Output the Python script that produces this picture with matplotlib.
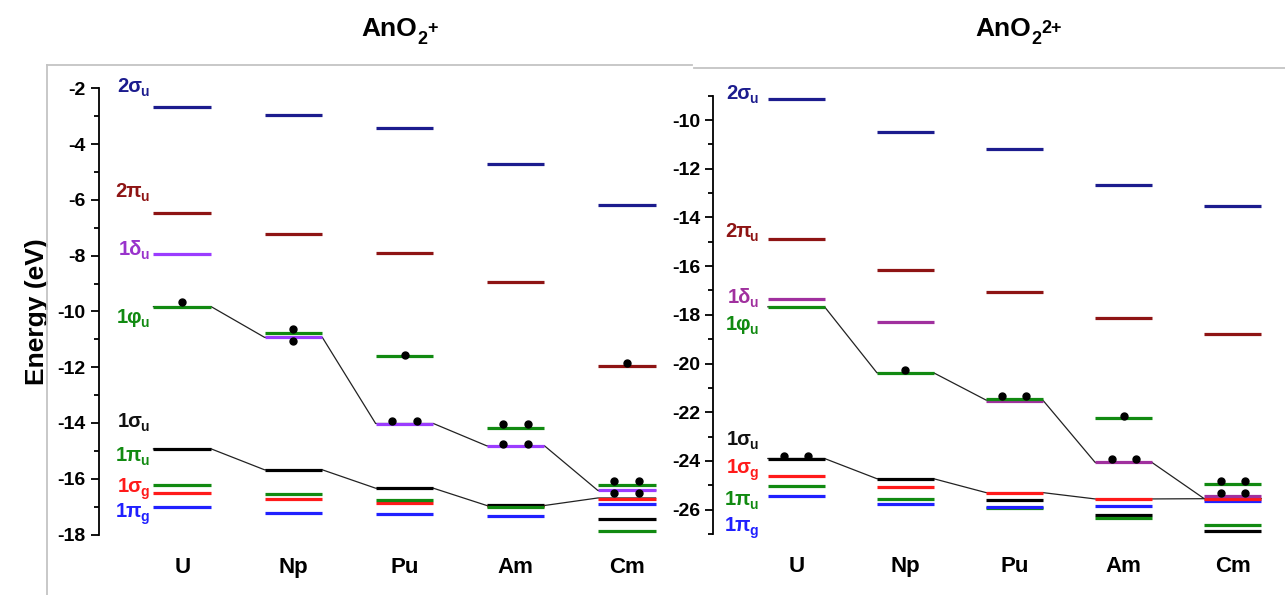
import matplotlib.pyplot as plt
from matplotlib.ticker import MultipleLocator
from matplotlib.lines import Line2D

plt.rcParams['font.family'] = ['Liberation Sans', 'DejaVu Sans']
plt.rcParams['font.weight'] = 'bold'
plt.rcParams['axes.unicode_minus'] = False

elements = ['U', 'Np', 'Pu', 'Am', 'Cm']

# AnO2+ levels (eV), one value per element
p_2su = [-2.66, -2.96, -3.43, -4.70, -6.19]
p_2pu = [-6.46, -7.21, -7.89, -8.93, -11.96]
p_1du = [-7.94, -10.93, -14.02, -14.82, -16.42]
p_1fu = [-9.83, -10.78, -11.60, -14.19, -16.24]
p_1su = [-14.93, -15.68, -16.34, -16.96, -17.43]
p_1pu = [-16.24, -16.55, -16.76, -17.03, -17.86]
p_1sg = [-16.50, -16.73, -16.86, -16.98, -16.72]
p_1pg = [-17.02, -17.22, -17.28, -17.34, -16.91]
p_upper = [-9.83, -10.93, -14.02, -14.82, -16.42]
p_lower = [-14.93, -15.68, -16.34, -16.96, -16.69]
# electrons: (element index, count, energy)
p_dots = [(0, 1, -9.65), (1, 1, -10.64), (1, 1, -11.05), (2, 1, -11.55),
          (2, 2, -13.92), (3, 2, -14.03), (3, 2, -14.75), (4, 1, -11.86),
          (4, 2, -16.07), (4, 2, -16.52)]

# AnO2 2+ levels (eV)
d_2su = [-9.14, -10.49, -11.19, -12.68, -13.52]
d_2pu = [-14.90, -16.17, -17.05, -18.12, -18.79]
d_1du = [-17.35, -18.28, -21.55, -24.06, -25.45]
d_1fu = [-17.67, -20.38, -21.46, -22.23, -24.95]
d_1su = [-23.90, -24.73, -25.60, -26.23, -26.86]
d_1sg = [-24.61, -25.08, -25.30, -25.56, -25.55]
d_1pu = [-25.03, -25.56, -25.95, -26.36, -26.64]
d_1pg = [-25.45, -25.77, -25.88, -25.85, -25.65]
d_upper = [-17.67, -20.38, -21.50, -24.06, -25.55]
d_lower = [-23.90, -24.73, -25.30, -25.56, -25.55]
d_dots = [(0, 2, -23.80), (1, 1, -20.27), (2, 2, -21.35), (3, 1, -22.17),
          (3, 2, -23.93), (4, 2, -24.83), (4, 2, -25.32)]

navy = '#1c1c8e'
dred = '#8e1414'
green = '#118a11'
red = '#ff1a1a'
blue = '#2020ff'

HW = 0.26


def sub_label(ax, x, y, main, sub, col):
    # main text, then a small subscript hung off its lower right corner
    t = ax.text(x, y, main, color=col, fontsize=14.5, fontweight='bold',
                ha='right', va='baseline', clip_on=False)
    ax.annotate(sub, xy=(1, 0), xycoords=t, xytext=(-1.5, -2.2),
                textcoords='offset points', color=col, fontsize=10,
                fontweight='bold', ha='left', va='bottom')


def title(x_px, main, sup):
    t = fig.text(x_px / 1285, 1 - 36 / 595, main, fontsize=19,
                 fontweight='bold', ha='right', va='baseline')
    t2 = fig.add_artist(plt.Annotation('2', xy=(1, 0), xycoords=t,
                                       xytext=(0, -5),
                                       textcoords='offset points',
                                       fontsize=13, fontweight='bold',
                                       ha='left', va='bottom'))
    fig.add_artist(plt.Annotation(sup, xy=(1, 1), xycoords=(t2, t),
                                  xytext=(0, -2.5),
                                  textcoords='offset points', fontsize=13,
                                  fontweight='bold', ha='left', va='top'))


def draw_panel(ax, series, upper, lower, dots, labels, label_x):
    xs = range(len(elements))
    for pts in (upper, lower):
        lx, ly = [], []
        for i, v in zip(xs, pts):
            lx += [i - HW, i + HW]
            ly += [v, v]
        ax.plot(lx, ly, color='#222222', lw=0.9, zorder=1, clip_on=False)
    for vals, col in series:
        ax.hlines(vals, [i - HW for i in xs], [i + HW for i in xs],
                  colors=col, lw=2.3, zorder=2, clip_on=False)
    for i, n, v in dots:
        px = [i] if n == 1 else [i - 0.11, i + 0.11]
        ax.plot(px, [v] * len(px), 'o', color='black', ms=5, zorder=3,
                clip_on=False)
    for txt, sub, y, col in labels:
        sub_label(ax, label_x, y, txt, sub, col)
    for s in ('top', 'right', 'bottom'):
        ax.spines[s].set_visible(False)
    ax.spines['left'].set_linewidth(1.3)
    ax.yaxis.set_major_locator(MultipleLocator(2))
    ax.yaxis.set_minor_locator(MultipleLocator(1))
    ax.tick_params(axis='y', which='major', direction='out', length=6,
                   width=1.3, labelsize=14)
    ax.tick_params(axis='y', which='minor', direction='out', length=3.5,
                   width=1.3)
    ax.set_xticks(list(xs))
    ax.set_xticklabels(elements, fontsize=16, fontweight='bold')
    ax.tick_params(axis='x', length=0, pad=16)
    for t in ax.get_yticklabels():
        t.set_fontweight('bold')


fig = plt.figure(figsize=(12.85, 5.95), dpi=100)

ax1 = fig.add_axes([99 / 1285, 60.5 / 595, 588.8 / 1285, 446.2 / 595])
ax1.set_xlim(-0.75, 4.55)
ax1.set_ylim(-18, -2)
purple1 = '#9b3cff'
draw_panel(ax1,
           [(p_2su, navy), (p_2pu, dred), (p_1sg, red), (p_1su, 'black'),
            (p_1pu, green), (p_1pg, blue), (p_1du, purple1), (p_1fu, green)],
           p_upper, p_lower, p_dots,
           [('2σ', 'u', -2.12, navy), ('2π', 'u', -5.89, dred),
            ('1δ', 'u', -7.97, '#9933cc'), ('1φ', 'u', -10.42, green),
            ('1σ', 'u', -14.13, '#111111'), ('1π', 'u', -15.38, green),
            ('1σ', 'g', -16.46, red), ('1π', 'g', -17.36, blue)],
           -0.36)
ax1.set_ylabel('Energy (eV)', fontsize=19, fontweight='bold', labelpad=6)

ax2 = fig.add_axes([713.3 / 1285, 61 / 595, 568.4 / 1285, 438.3 / 595])
ax2.set_xlim(-0.76, 4.45)
ax2.set_ylim(-27, -9)
purple2 = '#a0309e'
draw_panel(ax2,
           [(d_2su, navy), (d_2pu, dred), (d_1su, 'black'), (d_1pu, green),
            (d_1pg, blue), (d_1sg, red), (d_1du, purple2), (d_1fu, green)],
           d_upper, d_lower, d_dots,
           [('2σ', 'u', -9.15, navy), ('2π', 'u', -14.79, dred),
            ('1δ', 'u', -17.53, purple2), ('1φ', 'u', -18.62, green),
            ('1σ', 'u', -23.35, '#111111'), ('1σ', 'g', -24.51, red),
            ('1π', 'u', -25.81, green), ('1π', 'g', -26.87, blue)],
           -0.41)

title(417, 'AnO', '+')
title(1031, 'AnO', '2+')

# light frame lines of the two panels
fc = '#c4c4c4'
fig.add_artist(Line2D([47 / 1285, 692 / 1285], [1 - 65 / 595] * 2,
                      transform=fig.transFigure, color=fc, lw=1.3))
fig.add_artist(Line2D([47 / 1285] * 2, [1 - 65 / 595, 0],
                      transform=fig.transFigure, color=fc, lw=1.3))
fig.add_artist(Line2D([694 / 1285, 1], [1 - 67.5 / 595] * 2,
                      transform=fig.transFigure, color=fc, lw=1.3))

fig.savefig('out.png', dpi=100)
